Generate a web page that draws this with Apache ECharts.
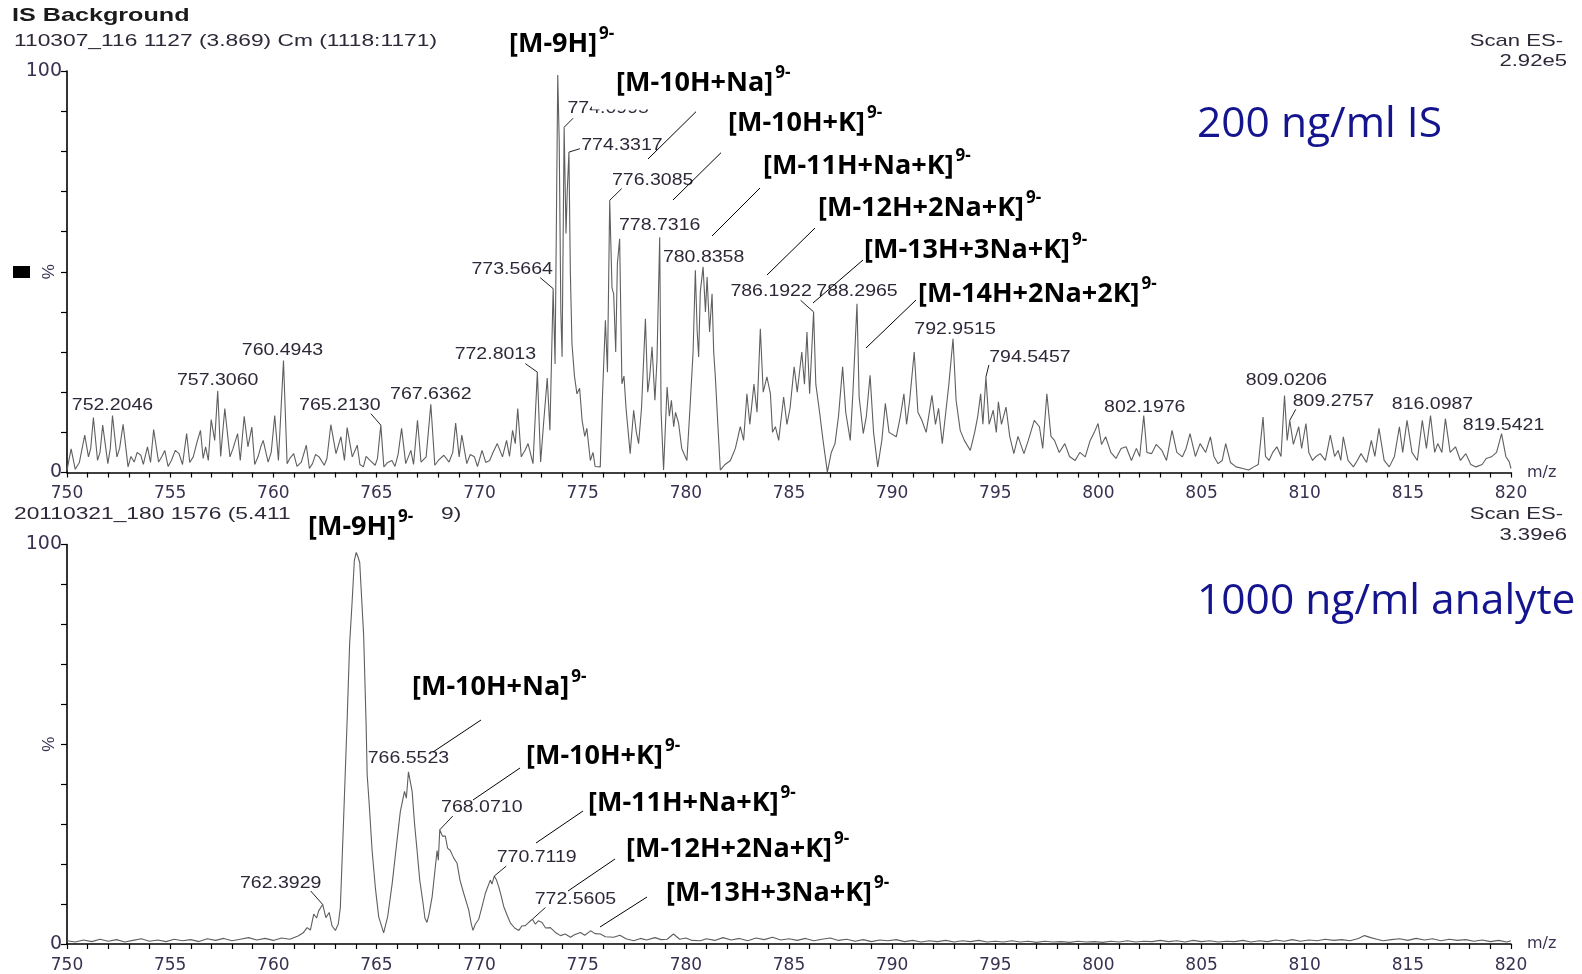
<!DOCTYPE html>
<html>
<head>
<meta charset="utf-8">
<script src="https://cdn.jsdelivr.net/npm/echarts@6/dist/echarts.min.js"></script>
<style>
  html, body { margin: 0; padding: 0; background: #fff; }
  #chart { width: 1582px; height: 974px; }
</style>
</head>
<body>
<div id="chart"></div>
<script>
// ---- data -------------------------------------------------------------
// m/z range and relative intensity range shared by both spectra
const mzRange = [750, 820];
const pctRange = [0, 100];

// Upper trace: 200 ng/ml internal standard, [m/z, relative intensity %]
const topSpectrum = [
  [750.0,0.6],[750.2,5.9],[750.4,0.8],[750.6,2.5],[750.86,9.3],[751.04,3.9],[751.15,6],[751.28,13.7],[751.48,3.0],[751.6,5],
  [751.73,11.8],[751.98,2.2],[752.1,6],[752.2046,14.2],[752.42,3.9],[752.55,6],[752.72,12.0],[752.96,1.4],[753.1,4],[753.26,2.6],
  [753.4,5],[753.58,4.3],[753.7,2],[753.9,6.4],[754.05,2.5],[754.2,10.7],[754.44,2.6],[754.6,4],[754.74,5.5],[754.9,1.5],
  [755.06,3.0],[755.25,5.5],[755.43,4.7],[755.6,2.0],[755.8,9.7],[755.95,2.5],[756.12,3.9],[756.3,7.5],[756.47,10.5],[756.6,3.5],
  [756.72,6.4],[756.85,3.0],[756.99,13.2],[757.16,8.0],[757.306,20.3],[757.45,4.0],[757.53,8.9],[757.65,15.9],[757.9,3.9],[758.05,6.0],
  [758.27,9.7],[758.4,3.0],[758.59,14.0],[758.77,6.4],[758.96,11.3],[759.1,2.0],[759.26,3.9],[759.4,6.5],[759.51,8.0],[759.75,2.6],
  [759.9,5.0],[760.07,14.2],[760.25,3.0],[760.4943,27.9],[760.67,2.2],[760.8,3.5],[760.99,4.7],[761.15,1.5],[761.36,2.6],[761.6,6.8],
  [761.75,1.0],[761.9,2.2],[762.05,4.5],[762.22,3.9],[762.47,1.8],[762.6,3.5],[762.79,11.9],[763.04,4.7],[763.28,8.9],[763.45,3.0],
  [763.58,11.2],[763.83,3.9],[764.07,6.8],[764.2,2.0],[764.37,1.4],[764.5,4.0],[764.69,3.0],[764.94,1.8],[765.05,3.5],[765.213,11.8],
  [765.36,1.4],[765.55,2.5],[765.75,3.0],[765.9,1.5],[766.05,4.5],[766.22,11.0],[766.42,2.2],[766.67,5.5],[766.8,2.0],[766.99,13.0],
  [767.16,2.6],[767.41,3.9],[767.6362,17.0],[767.83,1.8],[768.0,3.0],[768.27,4.3],[768.52,2.6],[768.7,5.0],[768.84,12.3],[769.01,3.9],
  [769.14,9.3],[769.38,2.2],[769.55,4.5],[769.75,3.9],[769.9,1.5],[770.12,5.5],[770.3,2.5],[770.49,3.0],[770.65,5.0],[770.86,7.2],
  [771.11,3.9],[771.31,8.0],[771.45,4.0],[771.6,10.5],[771.73,7.2],[771.85,15.9],[772.02,3.9],[772.2,5.5],[772.35,7.2],[772.59,2.2],
  [772.8013,25.0],[772.96,2.6],[773.1,12.0],[773.28,23.5],[773.41,10.5],[773.5664,45.8],[773.66,27],[773.72,60],[773.79,99],[773.86,82.7],
  [773.94,40],[774.0,28.8],[774.0995,86.0],[774.19,59.5],[774.25,70],[774.3317,79.8],[774.4,50],[774.48,32],[774.6,24],[774.72,19.6],
  [774.85,21],[774.97,13],[775.1,9],[775.2,11],[775.37,3],[775.5,5],[775.6,1.5],[775.85,1.4],[775.95,18],[776.1,37.9],
  [776.2,25],[776.3085,67.8],[776.42,46],[776.5,44.5],[776.6,30],[776.68,52],[776.79,58.2],[776.9,22.1],[777.0,24],[777.1,16],
  [777.3,4.7],[777.47,15.5],[777.6,10],[777.71,7.2],[777.85,16],[778.04,38.3],[778.15,20],[778.25,24],[778.36,31.3],[778.5,18],
  [778.6,28],[778.7316,58.6],[778.8,15],[778.92,0.6],[779.09,21.3],[779.2,14],[779.3,18],[779.41,11.4],[779.5,15],[779.65,12.2],
  [779.8,6],[780.05,3],[780.2,16],[780.35,30],[780.46,50.4],[780.55,35],[780.62,28.8],[780.7,45],[780.8358,51.2],[780.95,40],
  [781.03,48.7],[781.15,35],[781.27,44.5],[781.35,30],[781.43,23.8],[781.55,12],[781.67,0.6],[781.9,2],[782.16,3],[782.4,6],
  [782.64,11.4],[782.8,8],[782.96,19.6],[783.1,12],[783.3,22],[783.45,15],[783.61,35.8],[783.75,20],[783.93,23.8],[784.1,19.6],
  [784.2,10],[784.34,11.4],[784.5,8],[784.74,18.8],[784.9,12],[785.05,16],[785.25,26.3],[785.4,20],[785.62,30],[785.75,22],
  [785.87,35],[786.0,19.6],[786.1922,40],[786.3,22],[786.49,14.7],[786.65,8],[786.86,0.1],[787.05,5],[787.23,7.2],[787.4,14],
  [787.6,26.3],[787.75,15],[787.97,8],[788.1,20],[788.2965,42],[788.4,18.8],[788.6,9.7],[788.75,14],[788.93,24.2],[789.1,10],
  [789.3,1.4],[789.5,8],[789.67,17.2],[789.85,10],[790.2,8.9],[790.4,14],[790.57,19.6],[790.7,12],[790.85,18],[791.07,30],
  [791.25,15],[791.44,13],[791.65,10],[791.93,19.2],[792.1,12],[792.25,16],[792.43,7.2],[792.6,15],[792.75,22],[792.9515,33.3],
  [793.1,18],[793.3,10.5],[793.5,8],[793.79,5.5],[794.0,10],[794.15,14],[794.29,19.6],[794.4,12],[794.5457,23.8],[794.7,12],
  [794.9,15.5],[795.05,10],[795.15,17.6],[795.3,12],[795.52,16.3],[795.7,9],[795.9,4.7],[796.1,9],[796.39,4.7],[796.6,8],
  [796.89,13],[797.14,11.4],[797.3,6],[797.5,19.6],[797.7,9],[797.87,8],[798.1,5],[798.37,7.2],[798.6,4],[798.87,3],
  [799.1,5],[799.36,3.9],[799.6,8],[799.8,10],[799.98,12.2],[800.15,7],[800.35,8.9],[800.6,5],[800.85,3.5],[801.1,6],
  [801.34,6.4],[801.6,3],[801.84,6],[802.0,4],[802.1976,14.2],[802.35,5],[802.58,4.7],[802.8,7],[803.08,5.5],[803.3,3],
  [803.57,10.5],[803.8,5],[804.07,3.9],[804.25,6],[804.44,9.7],[804.7,4],[804.93,7.2],[805.2,5],[805.43,8.9],[805.6,4],
  [805.8,2.2],[806.0,3],[806.17,7.2],[806.4,2.5],[806.67,1.4],[807.0,1.0],[807.28,0.6],[807.53,1.4],[807.75,2],[807.98,13.8],
  [808.1,4],[808.27,3],[808.45,5],[808.65,6.4],[808.85,4],[809.0206,19.2],[809.15,8],[809.2757,13],[809.45,7],[809.71,11.4],
  [809.85,6],[810.06,12.2],[810.2,5],[810.38,3],[810.55,4],[810.75,4.7],[811.0,3],[811.24,9.3],[811.45,4],[811.62,5.5],
  [811.75,3],[811.87,8.9],[812.1,3],[812.36,1.4],[812.55,3],[812.73,4.7],[813.0,2.5],[813.23,8],[813.4,4],[813.6,11],
  [813.85,3],[814.1,1.4],[814.35,4],[814.59,11.4],[814.75,5],[814.96,13],[815.2,5],[815.46,3],[815.7,13],[815.9,6],
  [816.0987,14.2],[816.3,5],[816.45,7.2],[816.65,5],[816.82,13.4],[817.05,5],[817.31,6.4],[817.55,3],[817.81,4.7],[818.05,2],
  [818.3,1.4],[818.6,2],[818.8,3.5],[819.05,3.9],[819.3,5],[819.5421,9.7],[819.75,4],[819.91,2.7],[820.0,1]
];

// Lower trace: 1000 ng/ml analyte, [m/z, relative intensity %]
const bottomSpectrum = [
  [750.0,0.8],[750.4,0.5],[750.8,1.0],[751.2,0.6],[751.6,1.2],[752.0,0.7],[752.4,1.1],[752.8,0.5],[753.2,0.9],[753.6,1.3],
  [754.0,0.7],[754.4,1.0],[754.8,0.6],[755.2,1.2],[755.6,0.8],[756.0,1.1],[756.4,0.6],[756.8,1.3],[757.2,0.9],[757.6,1.4],
  [758.0,0.8],[758.4,1.2],[758.8,1.6],[759.2,1.0],[759.6,1.4],[760.0,0.9],[760.4,1.5],[760.8,1.2],[761.2,2.0],[761.45,2.8],
  [761.64,4.1],[761.8,3.5],[761.96,7.5],[762.1,6.5],[762.2,8.3],[762.3929,9.9],[762.55,6.6],[762.71,7.9],[762.85,4.5],[763.01,3.4],
  [763.15,5],[763.25,9.1],[763.4,30],[763.58,56],[763.7,75],[763.82,85.5],[763.93,96],[764.02,98],[764.1,97],[764.19,95.5],
  [764.38,77.3],[764.5,55],[764.55,42.5],[764.65,35],[764.79,23.4],[764.95,14],[765.11,6.8],[765.35,2.8],[765.55,7],[765.76,15],
  [766.0,26],[766.16,33.2],[766.36,38.2],[766.45,36.5],[766.5523,43.1],[766.73,38.2],[766.85,30],[766.97,23.4],[767.1,16],[767.26,10.2],
  [767.35,6.5],[767.45,5.4],[767.55,7.5],[767.7,11.8],[767.94,23.4],[768.0,21],[768.071,28.6],[768.2,27],[768.34,27],[768.45,24],
  [768.58,23.4],[768.75,21.5],[768.91,20.2],[769.05,16],[769.23,12.7],[769.47,8.6],[769.6,5],[769.68,3.4],[769.8,5],[769.96,6.2],
  [770.1,9],[770.28,12.7],[770.52,16],[770.6,15],[770.7119,17],[770.82,16],[770.93,14.3],[771.05,12],[771.17,9.4],[771.35,7],
  [771.49,5.3],[771.7,4],[771.9,3.4],[772.05,4.5],[772.22,4.6],[772.4,5.5],[772.5605,6.2],[772.7,5],[772.85,5.8],[773.03,5.4],
  [773.2,4],[773.43,4.1],[773.7,2.8],[773.92,2.1],[774.15,2.5],[774.41,1.7],[774.6,2.3],[774.89,2.9],[775.1,2.2],[775.38,3.3],
  [775.6,2.6],[775.86,2.5],[776.1,1.8],[776.5,1.7],[776.8,2.2],[777.1,1.3],[777.47,0.8],[777.8,1.4],[778.1,1.0],[778.5,1.6],
  [778.8,1.1],[779.09,1.2],[779.4,2.5],[779.7,1.2],[780.0,1.5],[780.3,0.9],[780.7,0.8],[781.0,1.3],[781.4,0.9],[781.8,1.6],
  [782.2,1.0],[782.6,1.4],[783.0,0.8],[783.4,1.5],[783.8,1.1],[784.2,1.7],[784.6,1.0],[785.0,1.3],[785.4,0.9],[785.8,1.4],
  [786.2,0.8],[786.6,1.2],[787.0,1.5],[787.4,0.9],[787.8,1.2],[788.2,0.7],[788.6,1.1],[789.0,0.6],[789.4,1.0],[789.8,0.8],
  [790.2,1.1],[790.6,0.6],[791.0,0.9],[791.4,0.5],[791.8,0.8],[792.2,0.6],[792.6,0.9],[793.0,0.5],[793.4,0.8],[793.8,0.6],
  [794.2,0.9],[794.6,0.5],[795.0,0.7],[795.4,0.5],[795.8,0.8],[796.2,0.5],[796.6,0.7],[797.0,0.4],[797.4,0.7],[797.8,0.5],
  [798.2,0.6],[798.6,0.4],[799.0,0.7],[799.4,0.5],[799.8,0.6],[800.2,0.4],[800.6,0.7],[801.0,0.5],[801.4,0.8],[801.8,0.5],
  [802.2,0.7],[802.6,0.6],[803.0,0.9],[803.4,0.6],[803.8,0.8],[804.2,0.5],[804.6,0.9],[805.0,0.6],[805.4,0.8],[805.8,0.5],
  [806.2,0.7],[806.6,0.6],[807.0,0.9],[807.4,0.5],[807.8,0.8],[808.2,0.6],[808.6,1.0],[809.0,0.7],[809.4,1.1],[809.8,0.7],
  [810.2,1.0],[810.6,0.8],[811.0,1.2],[811.4,0.9],[811.8,1.1],[812.2,0.8],[812.6,1.4],[812.9,2.1],[813.2,1.6],[813.5,1.2],
  [813.8,0.8],[814.2,1.1],[814.6,1.3],[815.0,0.9],[815.4,1.4],[815.8,1.0],[816.2,1.3],[816.6,0.8],[817.0,1.2],[817.4,0.9],
  [817.8,1.1],[818.2,0.7],[818.6,1.0],[819.0,0.6],[819.4,0.9],[819.8,0.5],[820.0,0.8]
];

// Centroid m/z values annotated on each trace (each is a point of its spectrum)
const topLabelled = [752.2046, 757.3060, 760.4943, 765.2130, 767.6362, 772.8013, 773.5664, 774.0995, 774.3317,
  776.3085, 778.7316, 780.8358, 786.1922, 788.2965, 792.9515, 794.5457, 802.1976, 809.0206, 809.2757, 816.0987, 819.5421];
const bottomLabelled = [762.3929, 766.5523, 768.0710, 770.7119, 772.5605];

// Adduct assignments
const ionsTop = ['[M-9H]', '[M-10H+Na]', '[M-10H+K]', '[M-11H+Na+K]', '[M-12H+2Na+K]', '[M-13H+3Na+K]', '[M-14H+2Na+2K]'];
const ionsBottom = ['[M-9H]', '[M-10H+Na]', '[M-10H+K]', '[M-11H+Na+K]', '[M-12H+2Na+K]', '[M-13H+3Na+K]'];
const ionCharge = '9-';

// Header text of each trace
const headerTop = { title: 'IS Background', run: '110307_116 1127 (3.869) Cm (1118:1171)', scan: 'Scan ES-', tic: '2.92e5', sample: '200 ng/ml IS' };
const headerBottom = { runA: '20110321_180 1576 (5.411', runB: '9)', scan: 'Scan ES-', tic: '3.39e6', sample: '1000 ng/ml analyte' };
const intensityUnit = '%';

// ---- layout -----------------------------------------------------------
// peak label placement relative to the apex in px: [dx, dy, leaderStartX, leaderStartY]
const topLabelLayout = [[0,-10],[0,-10],[-1,-10],[-41,-20,-10,-11.5],[0,-10],[-42,-18,-12,-8.5],[-41,-19,-13,-11],
  [44,-19,9,-9],[53,-7,11,-3.4],[43,-20,12,-11.7],[0,-11.5],[0.5,-9],[-42.5,-20,-13,-11.6],[0,-12.5],[2,-9.5],
  [44,-19.4,3,-12],[1,-8],[2,-14.7],[43.6,-18.4,6,-11],[2,-10.6],[2,-8.4]];
const bottomLabelLayout = [[-42,-21,-12,-13.5],[0,-13.5],[42,-21.7,13,-13.7],[42.4,-18,12,-10],[43,-20,13,-11.7]];

// adduct label: [left, centerY] and leader [x1, y1, x2, y2] (px)
const ionLayoutTop = [
  [509,44,null],[616,83,[696,111.7,648,159]],[728,123,[721,152.7,673,200]],[763,166,[760,188,712,236]],
  [818,208,[815,228,767,275]],[864,250,[863,260,813,303]],[918,294,[916,300,866,348]]
];
const ionLayoutBottom = [
  [308,527,null],[412,687,[481,720,433,752]],[526,756,[520,768,473,800]],[588,803,[583,811,536,843]],
  [626,849,[615,859,568,891]],[666,893,[647,897,600,927]]
];

const GRID_TOP = { left: 67, right: 71, top: 71, height: 401.5 };
const GRID_BOTTOM = { left: 67, right: 71, top: 544.5, height: 403 };

const MS_FONT = '"Liberation Sans", Arial, sans-serif';
const SLIDE_FONT = '"Open Sans", sans-serif';
const MS_TEXT = '#2e2838';
const AXIS_TEXT = '#3a3050';
const TRACE = '#5f5f5f';
const NAVY = '#14148f';

const chart = echarts.init(document.getElementById('chart'), null, { renderer: 'canvas' });

function xAxisCfg(gridIndex) {
  return {
    type: 'value', gridIndex, min: mzRange[0], max: mzRange[1], interval: 5,
    axisLine: { onZero: false, lineStyle: { color: '#000', width: 1.6 } },
    axisTick: { length: 5, lineStyle: { color: '#000', width: 1.2 } },
    minorTick: { show: true, splitNumber: 5, length: 5, lineStyle: { color: '#000', width: 1.2 } },
    splitLine: { show: false }, minorSplitLine: { show: false },
    axisLabel: { fontFamily: 'DejaVu Sans', fontSize: 17, color: AXIS_TEXT, margin: 13 },
    name: 'm/z', nameLocation: 'end', nameGap: 16, nameMoveOverlap: false,
    nameTextStyle: { fontFamily: 'DejaVu Sans', fontSize: 16, color: AXIS_TEXT, verticalAlign: 'middle', padding: [6, 0, 0, 0] }
  };
}
function yAxisCfg(gridIndex) {
  return {
    type: 'value', gridIndex, min: pctRange[0], max: pctRange[1], interval: 10,
    axisLine: { show: true, lineStyle: { color: '#000', width: 1.6 } },
    axisTick: { show: true, length: 6, lineStyle: { color: '#000', width: 1.2 } },
    splitLine: { show: false },
    axisLabel: {
      fontFamily: 'DejaVu Sans', fontSize: 19, color: AXIS_TEXT, margin: 5,
      formatter: v => (v === pctRange[0] || v === pctRange[1]) ? String(v) : ''
    }
  };
}

chart.setOption({
  animation: false,
  backgroundColor: '#fff',
  grid: [
    Object.assign({ containLabel: false }, GRID_TOP),
    Object.assign({ containLabel: false }, GRID_BOTTOM)
  ],
  xAxis: [xAxisCfg(0), xAxisCfg(1)],
  yAxis: [yAxisCfg(0), yAxisCfg(1)],
  series: [
    { type: 'line', xAxisIndex: 0, yAxisIndex: 0, data: topSpectrum, showSymbol: false, symbol: 'none',
      lineStyle: { color: TRACE, width: 1.1 }, z: 2 },
    { type: 'line', xAxisIndex: 1, yAxisIndex: 1, data: bottomSpectrum, showSymbol: false, symbol: 'none',
      lineStyle: { color: TRACE, width: 1.1 }, z: 2 }
  ]
});

// ---- annotations --------------------------------------------------------
const measureCtx = document.createElement('canvas').getContext('2d');
function textWidth(str, font) { measureCtx.font = font; return measureCtx.measureText(str).width; }

function msText(x, y, str, opt) {
  opt = opt || {};
  return {
    type: 'text', x, y, scaleX: opt.scaleX || 1.25, rotation: opt.rotation || 0, z: 50, silent: true,
    style: {
      text: str, fill: opt.fill || MS_TEXT,
      font: (opt.weight || 'normal') + ' ' + (opt.size || 16) + 'px ' + MS_FONT,
      textAlign: opt.align || 'left', textVerticalAlign: 'middle'
    }
  };
}
function segment(x1, y1, x2, y2, color, width) {
  return { type: 'line', z: 50, silent: true, shape: { x1, y1, x2, y2 },
    style: { stroke: color || '#111', lineWidth: width || 1 } };
}

function peakLabels(gridIndex, spectrum, labelled, layout) {
  const out = [];
  labelled.forEach((mz, i) => {
    const pt = spectrum.find(p => p[0] === mz);
    const [px, py] = chart.convertToPixel({ gridIndex }, pt);
    const [dx, dy, lx, ly] = layout[i];
    out.push(msText(px + dx, py + dy, mz.toFixed(4), { align: 'center', size: 16, scaleX: 1.22 }));
    if (lx !== undefined) out.push(segment(px + lx, py + ly, px, py, '#222', 1));
  });
  return out;
}

function ionLabels(ions, layout) {
  const out = [];
  const mainFont = 'bold 27px ' + SLIDE_FONT;
  ions.forEach((ion, i) => {
    const [left, cy, lead] = layout[i];
    const w = textWidth(ion, mainFont);
    out.push({ type: 'text', x: left, y: cy, z: 60, silent: true,
      style: { text: ion, font: mainFont, fill: '#000', textAlign: 'left', textVerticalAlign: 'middle' } });
    out.push({ type: 'text', x: left + w + 2, y: cy - 10, z: 60, silent: true,
      style: { text: ionCharge, font: 'bold 17px ' + SLIDE_FONT, fill: '#000', textAlign: 'left', textVerticalAlign: 'middle' } });
    if (lead) out.push(segment(lead[0], lead[1], lead[2], lead[3], '#000', 1));
  });
  return out;
}

function unitLabel(gridIndex) {
  const [, y] = chart.convertToPixel({ gridIndex }, [mzRange[0], (pctRange[0] + pctRange[1]) / 2]);
  return msText(49, y, intensityUnit, { align: 'center', size: 17, scaleX: 1, rotation: Math.PI / 2, fill: AXIS_TEXT });
}

const graphics = [];
// header of the upper trace
graphics.push(msText(12, 15.5, headerTop.title, { weight: 'bold', size: 18.5, scaleX: 1.36, fill: '#1a1a1a' }));
graphics.push(msText(14, 41, headerTop.run, { size: 17, scaleX: 1.34 }));
graphics.push(msText(1563, 41, headerTop.scan, { size: 17, scaleX: 1.3, align: 'right' }));
graphics.push(msText(1567, 61.5, headerTop.tic, { size: 17, scaleX: 1.3, align: 'right' }));
// header of the lower trace
graphics.push(msText(14, 514, headerBottom.runA, { size: 17, scaleX: 1.34 }));
graphics.push(msText(441, 514, headerBottom.runB, { size: 17, scaleX: 1.34 }));
graphics.push(msText(1563, 514, headerBottom.scan, { size: 17, scaleX: 1.3, align: 'right' }));
graphics.push(msText(1567, 535.5, headerBottom.tic, { size: 17, scaleX: 1.3, align: 'right' }));
// intensity unit on both traces and the function marker beside the upper one
graphics.push(unitLabel(0), unitLabel(1));
graphics.push({ type: 'rect', z: 50, silent: true, shape: { x: 13, y: 266, width: 17, height: 12 }, style: { fill: '#000' } });

// centroid labels
graphics.push(...peakLabels(0, topSpectrum, topLabelled, topLabelLayout));
graphics.push(...peakLabels(1, bottomSpectrum, bottomLabelled, bottomLabelLayout));

// text box of the sodium adduct sits over part of the neighbouring centroid label
graphics.push({ type: 'rect', z: 55, silent: true, shape: { x: 592, y: 62, width: 62, height: 47.5 }, style: { fill: '#fff' } });

// adduct assignments
graphics.push(...ionLabels(ionsTop, ionLayoutTop));
graphics.push(...ionLabels(ionsBottom, ionLayoutBottom));

// sample captions
graphics.push({ type: 'text', x: 1197, y: 125, z: 60, silent: true,
  style: { text: headerTop.sample, font: '42.5px ' + SLIDE_FONT, fill: NAVY, textAlign: 'left', textVerticalAlign: 'middle' } });
graphics.push({ type: 'text', x: 1197, y: 602, z: 60, silent: true,
  style: { text: headerBottom.sample, font: '42.5px ' + SLIDE_FONT, fill: NAVY, textAlign: 'left', textVerticalAlign: 'middle' } });

chart.setOption({ graphic: graphics });
</script>
</body>
</html>
